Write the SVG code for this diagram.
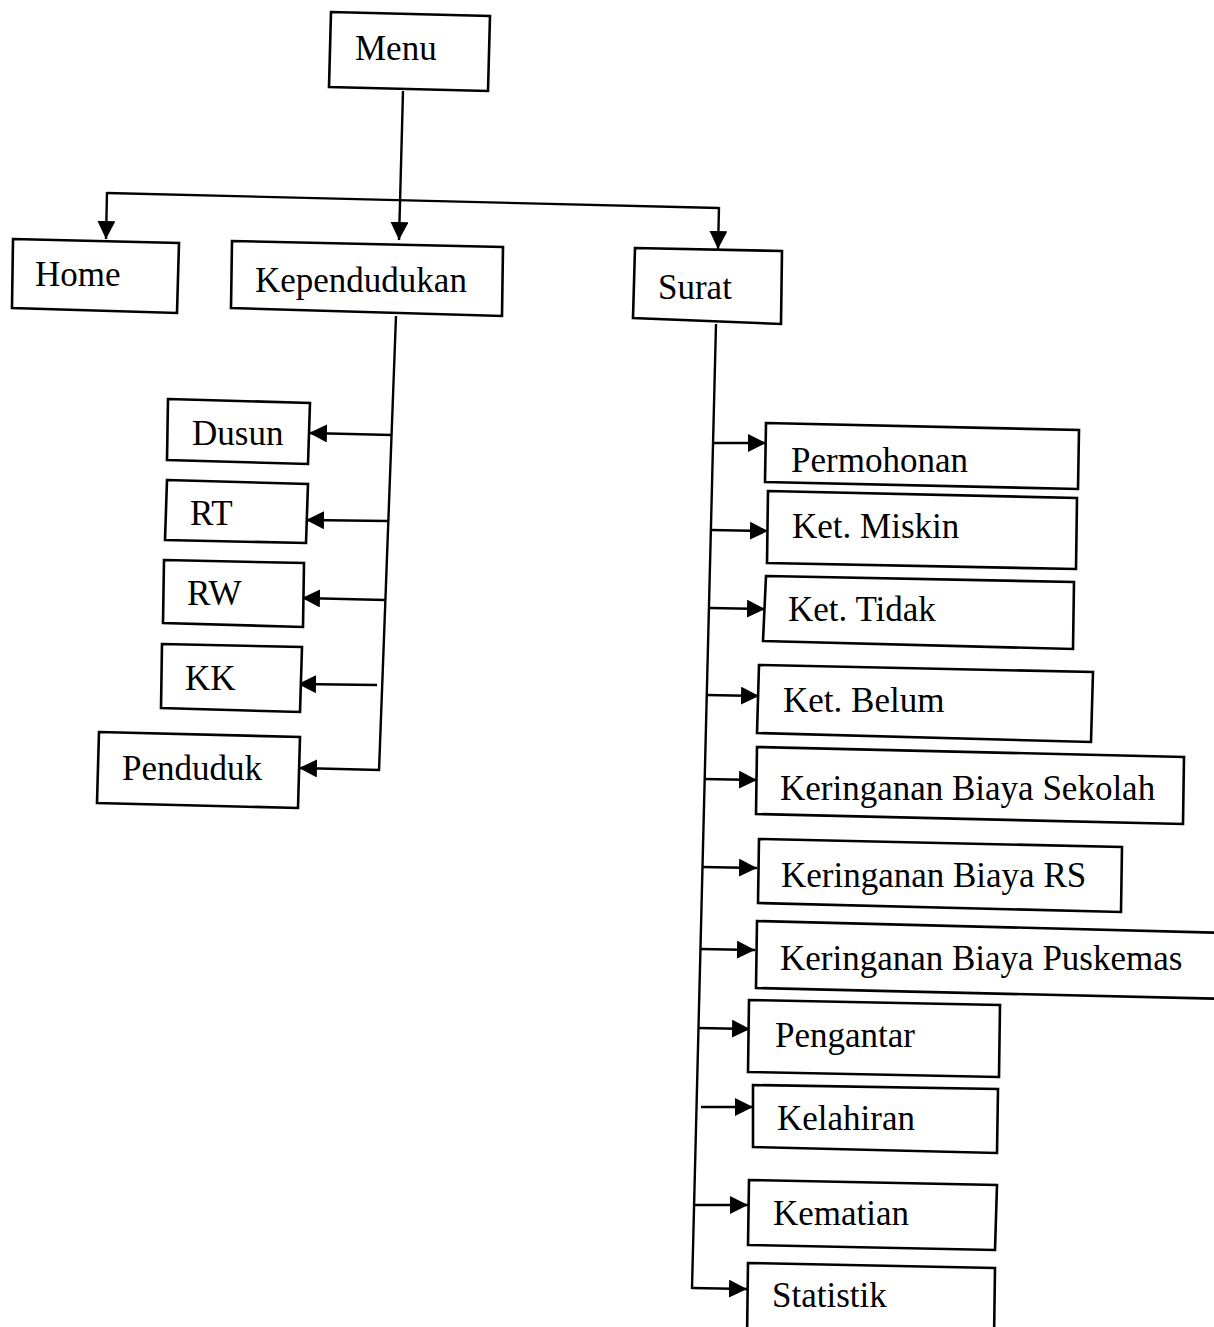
<svg xmlns="http://www.w3.org/2000/svg" width="1214" height="1327" viewBox="0 0 1214 1327">
  <style>
    .box { fill: #fff; stroke: #000; stroke-width: 2.6; stroke-linejoin: miter; }
    .lbl { font-family: "Liberation Serif", "Times New Roman", serif; font-size: 35px; fill: #000; }
    .wire { fill: none; stroke: #000; stroke-width: 2.4; }
    .arr { fill: none; stroke: #000; stroke-width: 2.4; marker-end: url(#head); }
  </style>
  <defs>
    <marker id="head" markerUnits="userSpaceOnUse" markerWidth="20" markerHeight="20" refX="18" refY="9" orient="auto">
      <path d="M0,0 L18,9 L0,18 z" fill="#000"/>
    </marker>
  </defs>
  <rect width="1214" height="1327" fill="#fff"/>

  <!-- connectors -->
  <g id="connectors">
    <!-- Menu to first level -->
    <path class="arr" d="M403,91 L399,240"/>
    <path class="wire" d="M107,193 L719,208"/>
    <path class="arr" d="M107,192 L106,239"/>
    <path class="arr" d="M719,207 L718,249"/>
    <!-- Kependudukan trunk and branches -->
    <path class="wire" d="M396,316 L379,771"/>
    <path class="arr" d="M391,435 L309,433"/>
    <path class="arr" d="M388,521 L306,520"/>
    <path class="arr" d="M385,600 L302,598"/>
    <path class="arr" d="M377,685 L298,684"/>
    <path class="arr" d="M380,770 L299,768"/>
    <!-- Surat trunk and branches -->
    <path class="wire" d="M716,324 L692,1289"/>
    <path class="arr" d="M713,443 L766,443"/>
    <path class="arr" d="M711,530 L768,531"/>
    <path class="arr" d="M710,608 L765,609"/>
    <path class="arr" d="M706,695 L759,696"/>
    <path class="arr" d="M704,779 L757,780"/>
    <path class="arr" d="M702,867 L757,868"/>
    <path class="arr" d="M700,949 L755,950"/>
    <path class="arr" d="M698,1028 L750,1029"/>
    <path class="arr" d="M701,1107 L753,1107"/>
    <path class="arr" d="M694,1205 L748,1205"/>
    <path class="arr" d="M692,1288 L747,1289"/>
  </g>

  <!-- top level -->
  <g id="menu">
    <path class="box" d="M331,12 L490,16 L488,91 L329,87 Z"/>
    <text class="lbl" x="355" y="60">Menu</text>
  </g>
  <g id="home">
    <path class="box" d="M13,239 L179,243 L177,313 L12,308 Z"/>
    <text class="lbl" x="35" y="286">Home</text>
  </g>
  <g id="kependudukan">
    <path class="box" d="M232,241 L503,247 L502,316 L231,308 Z"/>
    <text class="lbl" x="255" y="292">Kependudukan</text>
  </g>
  <g id="surat">
    <path class="box" d="M635,248 L782,251 L781,324 L633,318 Z"/>
    <text class="lbl" x="658" y="299">Surat</text>
  </g>

  <!-- Kependudukan children -->
  <g id="dusun">
    <path class="box" d="M168,399 L310,403 L308,464 L167,460 Z"/>
    <text class="lbl" x="192" y="445">Dusun</text>
  </g>
  <g id="rt">
    <path class="box" d="M167,480 L308,484 L306,543 L165,540 Z"/>
    <text class="lbl" x="190" y="525">RT</text>
  </g>
  <g id="rw">
    <path class="box" d="M164,560 L304,563 L303,627 L163,623 Z"/>
    <text class="lbl" x="187" y="605">RW</text>
  </g>
  <g id="kk">
    <path class="box" d="M162,644 L302,647 L300,712 L161,708 Z"/>
    <text class="lbl" x="185" y="690">KK</text>
  </g>
  <g id="penduduk">
    <path class="box" d="M99,732 L300,737 L298,808 L97,803 Z"/>
    <text class="lbl" x="122" y="780">Penduduk</text>
  </g>

  <!-- Surat children -->
  <g id="permohonan">
    <path class="box" d="M766,423 L1079,430 L1078,489 L765,482 Z"/>
    <text class="lbl" x="791" y="472">Permohonan</text>
  </g>
  <g id="ket-miskin">
    <path class="box" d="M768,491 L1077,498 L1076,569 L767,563 Z"/>
    <text class="lbl" x="792" y="538">Ket. Miskin</text>
  </g>
  <g id="ket-tidak">
    <path class="box" d="M766,576 L1074,582 L1073,649 L763,641 Z"/>
    <text class="lbl" x="788" y="621">Ket. Tidak</text>
  </g>
  <g id="ket-belum">
    <path class="box" d="M759,665 L1093,672 L1091,742 L757,733 Z"/>
    <text class="lbl" x="783" y="712">Ket. Belum</text>
  </g>
  <g id="biaya-sekolah">
    <path class="box" d="M757,747 L1184,757 L1183,824 L756,814 Z"/>
    <text class="lbl" x="780" y="800">Keringanan Biaya Sekolah</text>
  </g>
  <g id="biaya-rs">
    <path class="box" d="M759,839 L1122,847 L1121,912 L758,903 Z"/>
    <text class="lbl" x="781" y="887">Keringanan Biaya RS</text>
  </g>
  <g id="biaya-puskemas">
    <path class="box" d="M757,921 L1230,933 L1230,999 L756,988 Z"/>
    <text class="lbl" x="780" y="970">Keringanan Biaya Puskemas</text>
  </g>
  <g id="pengantar">
    <path class="box" d="M749,1000 L1000,1005 L999,1077 L748,1072 Z"/>
    <text class="lbl" x="775" y="1047">Pengantar</text>
  </g>
  <g id="kelahiran">
    <path class="box" d="M753,1085 L998,1089 L997,1153 L753,1147 Z"/>
    <text class="lbl" x="777" y="1130">Kelahiran</text>
  </g>
  <g id="kematian">
    <path class="box" d="M749,1180 L997,1185 L995,1250 L748,1245 Z"/>
    <text class="lbl" x="773" y="1225">Kematian</text>
  </g>
  <g id="statistik">
    <path class="box" d="M748,1263 L995,1268 L994,1340 L747,1340 Z"/>
    <text class="lbl" x="772" y="1307">Statistik</text>
  </g>
</svg>
